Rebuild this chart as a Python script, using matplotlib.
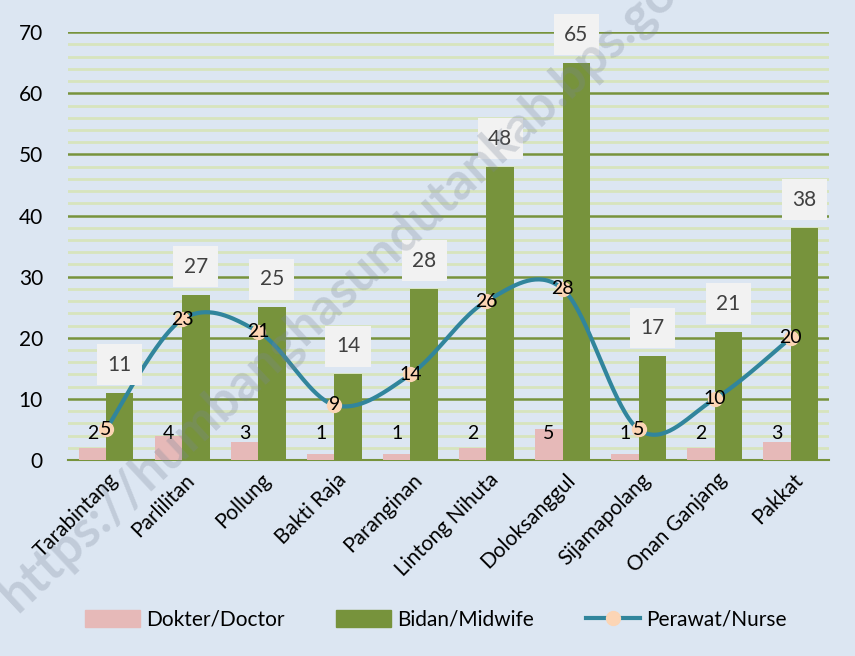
import matplotlib.pyplot as plt
import matplotlib.transforms as mtransforms
from matplotlib.patches import Patch
from matplotlib.lines import Line2D
import numpy as np

plt.rcParams['font.family'] = ['Lato', 'DejaVu Sans']

kecamatan = ["Tarabintang", "Parlilitan", "Pollung", "Bakti Raja", "Paranginan",
             "Lintong Nihuta", "Doloksanggul", "Sijamapolang", "Onan Ganjang", "Pakkat"]
dokter = [2, 4, 3, 1, 1, 2, 5, 1, 2, 3]
bidan = [11, 27, 25, 14, 28, 48, 65, 17, 21, 38]
perawat = [5, 23, 21, 9, 14, 26, 28, 5, 10, 20]

bg = "#dce6f2"
pink = "#e6b9b8"
green = "#77933c"
teal = "#31859c"
peach = "#fcd5b5"


def smooth(xs, ys, n=40):
    # catmull-rom curve through the points, like excel's smoothed line
    xs = np.asarray(xs, float)
    ys = np.asarray(ys, float)
    px = np.concatenate([[xs[0]], xs, [xs[-1]]])
    py = np.concatenate([[ys[0]], ys, [ys[-1]]])
    outx, outy = [], []
    t = np.linspace(0, 1, n)
    for i in range(1, len(px) - 2):
        p0 = np.array([px[i-1], py[i-1]])
        p1 = np.array([px[i], py[i]])
        p2 = np.array([px[i+1], py[i+1]])
        p3 = np.array([px[i+2], py[i+2]])
        c1 = p1 + (p2 - p0) / 6
        c2 = p2 - (p3 - p1) / 6
        for tt in t:
            b = ((1-tt)**3) * p1 + 3*((1-tt)**2)*tt*c1 + 3*(1-tt)*tt**2*c2 + tt**3*p2
            outx.append(b[0])
            outy.append(b[1])
    return np.array(outx), np.array(outy)


fig = plt.figure(figsize=(8.55, 6.56), dpi=100, facecolor=bg)
ax = fig.add_axes([0.0795, 0.2988, 0.89, 0.652])
ax.set_facecolor(bg)

x = np.arange(len(kecamatan))
w = 0.36
ax.bar(x - w/2, dokter, w, color=pink, zorder=3)
ax.bar(x + w/2, bidan, w, color=green, zorder=3)

sx, sy = smooth(x, perawat)
ax.plot(sx, sy, color=teal, lw=3, zorder=4)
ax.plot(x, perawat, "o", color=peach, ms=10, zorder=5)

for i in range(len(x)):
    ax.text(x[i] - w/2, 4.4, str(dokter[i]), ha="center", va="center",
            fontsize=14, color="black", zorder=6)
    ax.text(x[i] + w/2, bidan[i] + 4.6, str(bidan[i]), ha="center", va="center",
            fontsize=15, color="#404040", zorder=6,
            bbox=dict(boxstyle="square,pad=0.5", fc="#f2f2f2", ec="none"))
    ax.text(x[i], perawat[i], str(perawat[i]), ha="center", va="center",
            fontsize=14, color="black", zorder=6)

ax.set_xlim(-0.5, len(x) - 0.5)
ax.set_ylim(0, 70)
ax.set_yticks(range(0, 71, 10))
ax.set_yticks(range(0, 71, 2), minor=True)
ax.grid(axis="y", which="minor", color="#d7e4bd", lw=2, zorder=0)
ax.grid(axis="y", which="major", color=green, lw=1.8, zorder=1)
ax.tick_params(axis="y", which="both", length=0, labelsize=15, pad=18)
ax.tick_params(axis="x", length=0, labelsize=15, pad=7)
ax.set_xticks(x)
ax.set_xticklabels(kecamatan, rotation=45, ha="right", rotation_mode="anchor")
shift = mtransforms.ScaledTranslation(2 / 100, 0, fig.dpi_scale_trans)
for lab in ax.get_xticklabels():
    lab.set_transform(lab.get_transform() + shift)
for s in ["top", "right", "left"]:
    ax.spines[s].set_visible(False)
ax.spines["bottom"].set_color(green)
ax.spines["bottom"].set_linewidth(1.5)

handles = [Patch(color=pink), Patch(color=green),
           Line2D([], [], color=teal, lw=3, marker="o", mfc=peach, mec=peach, ms=10)]
labels = ["Dokter/Doctor", "Bidan/Midwife", "Perawat/Nurse"]
fig.legend(handles, labels, loc="center", bbox_to_anchor=(0.51, 0.055), ncol=3,
           frameon=False, fontsize=15, handlelength=2.6, handleheight=0.9,
           handletextpad=0.3, columnspacing=2.5)

fig.text(0.42, 0.58, "https://humbanghasundutankab.bps.go.id", rotation=43,
         fontsize=37, fontweight="bold", color="#7a8698", alpha=0.28,
         ha="center", va="center", zorder=10)

fig.savefig("out.png", dpi=100, facecolor=bg)
